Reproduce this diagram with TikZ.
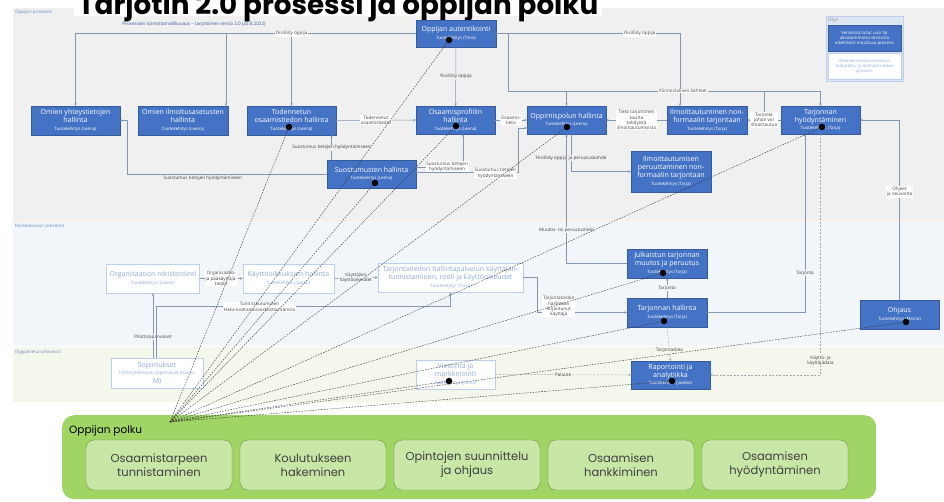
\documentclass[tikz,border=0pt]{standalone}
\usepackage{fontspec}
\setmainfont{Open Sans}
\newfontfamily\polkufont{Poppins}
\usepackage{graphicx}
\usetikzlibrary{arrows.meta,calc}

\definecolor{uusisin}{RGB}{68,114,196}
\definecolor{vanhareuna}{RGB}{189,207,234}
\definecolor{vanhateksti}{RGB}{143,170,220}
\definecolor{viiva}{RGB}{132,151,176}
\definecolor{katkoviiva}{RGB}{166,166,166}
\definecolor{oppijatausta}{RGB}{240,240,240}
\definecolor{korkeatausta}{RGB}{242,246,251}
\definecolor{digitausta}{RGB}{244,247,236}
\definecolor{aluenimi}{RGB}{105,135,190}
\definecolor{selitev}{RGB}{64,64,64}
\definecolor{polkuvihrea}{RGB}{160,212,100}
\definecolor{vaihevihrea}{RGB}{200,230,165}
\definecolor{ohjetausta}{RGB}{222,230,243}

\newcommand{\tuote}[1]{\\[-0.5pt]\fontsize{4.4}{5}\selectfont #1}

\tikzset{
  laatikko/.style={align=center, inner sep=1pt, font=\fontsize{7}{8.2}\selectfont},
  uusi/.style={laatikko, draw=uusisin!80!black, line width=0.3pt, fill=uusisin, text=white},
  vanha/.style={laatikko, draw=vanhareuna, line width=0.6pt, fill=white, text=vanhateksti},
  nuoli/.style={draw=viiva, line width=0.5pt, -{Stealth[length=2.6pt,width=2.4pt]}},
  katko/.style={nuoli, draw=katkoviiva, dash pattern=on 2pt off 1.5pt},
  selite/.style={font=\fontsize{4.6}{5.3}\selectfont, text=selitev, align=center, inner sep=0.7pt, fill=white},
  alue/.style={font=\fontsize{4.5}{5.2}\selectfont, text=aluenimi, anchor=north west, inner sep=0pt},
  piste/.style={circle, fill=black, inner sep=0pt, minimum size=6.5pt},
  polkuviiva/.style={draw=black!80, line width=0.4pt, dash pattern=on 1.6pt off 1.2pt},
  vaihe/.style={draw=polkuvihrea!70!black, line width=0.4pt, fill=vaihevihrea, rounded corners=8pt,
    minimum width=146pt, minimum height=50pt, align=center, text=black!75,
    font=\polkufont\fontsize{11.5}{14}\selectfont}
}

\begin{document}
\begin{tikzpicture}[x=1pt, y=-1pt]
  \useasboundingbox (0,0) rectangle (944,501);
  \clip (0,0) rectangle (944,501);

  % alueet
  \fill[oppijatausta] (13,8) rectangle (944,220);
  \fill[korkeatausta] (13,220) rectangle (944,346);
  \fill[digitausta] (13,346) rectangle (944,402);
  \draw[orange!15, line width=0.8pt] (13,220) -- (944,220);
  \draw[white, line width=0.8pt] (13,346) -- (944,346);

  \fill[white] (74,0) rectangle (602,16);
  \node[anchor=base west, inner sep=0pt] (otsikko) at (78,14)
    {\resizebox{520pt}{!}{\polkufont\bfseries Tarjotin 2.0 prosessi ja oppijan polku}};
  \node[font=\fontsize{4.6}{5.4}\selectfont, text=uusisin!75!black] (versio) at (194,24.5)
    {Prosessien toimintamallikuvaus – tarjottimen versio 2.0 (20.8.2022)};

  \node[alue] (oppijat) at (15,10) {Oppijan prosessit};
  \node[alue] (korkeat) at (15,224) {Korkeakoulun prosessit};
  \node[alue] (digit) at (15,350) {Digipalvelun prosessit};

  % ohje
  \node[draw=vanhareuna, fill=ohjetausta, minimum width=77pt, minimum height=65pt,
    anchor=north west, inner sep=0pt] (ohje) at (826,16) {};
  \node[alue, text=black!45] (ohjenimi) at (828,18) {Ohje};
  \node[uusi, font=\fontsize{4.3}{5.2}\selectfont, minimum width=73pt, minimum height=26pt] (ohjeuusi)
    at (864.5,38.5) {Versiossa tullut uusi tai\\aikaisemmasta versiosta\\oleellisesti muuttuva prosessi};
  \node[vanha, font=\fontsize{4.3}{5.2}\selectfont, minimum width=73pt, minimum height=26pt] (ohjevanha)
    at (864.5,66.5) {Aikaisemmassa versiossa\\toteutettu, jo olemassa oleva\\prosessi};

  % prosessit
  \node[uusi, minimum width=80pt, minimum height=27pt] (auth) at (456,33.5)
    {Oppijan autentikointi\tuote{Tuotekehitys (Tiina)}};
  \node[uusi, minimum width=89pt, minimum height=29pt] (yhteys) at (75.5,120.5)
    {Omien yhteystietojen\\hallinta\tuote{Tuotekehitys (Leena)}};
  \node[uusi, minimum width=90pt, minimum height=29pt] (ilmoas) at (183,120.5)
    {Omien ilmoitusasetusten\\hallinta\tuote{Tuotekehitys (Leena)}};
  \node[uusi, minimum width=89pt, minimum height=29pt] (todenn) at (291.5,120.5)
    {Todennetun\\osaamistiedon hallinta\tuote{Tuotekehitys (Leena)}};
  \node[uusi, minimum width=79pt, minimum height=28pt] (profiili) at (455.5,120)
    {Osaamisprofiilin\\hallinta\tuote{Tuotekehitys (Leena)}};
  \node[uusi, minimum width=79pt, minimum height=28pt] (oppimispolku) at (566.5,120)
    {Oppimispolun hallinta\tuote{Tuotekehitys (Leena)}};
  \node[uusi, minimum width=80pt, minimum height=28pt] (ilmoitt) at (707,120)
    {Ilmoittautuminen non-\\formaalin tarjontaan\tuote{Tuotekehitys (Tarja)}};
  \node[uusi, minimum width=79pt, minimum height=28pt] (tarjhyod) at (820.5,120)
    {Tarjonnan\\hyödyntäminen\tuote{Tuotekehitys (Tarja)}};
  \node[uusi, minimum width=89pt, minimum height=28pt] (suostum) at (371.5,174)
    {Suostumusten hallinta\tuote{Tuotekehitys (Leena)}};
  \node[uusi, minimum width=80pt, minimum height=41pt] (peruut) at (671,171.5)
    {Ilmoittautumisen\\peruuttaminen non-\\formaalin tarjontaan\tuote{Tuotekehitys (Tarja)}};
  \node[uusi, minimum width=80pt, minimum height=29pt] (julk) at (667,263.5)
    {Julkaistun tarjonnan\\muutos ja peruutus\tuote{Tuotekehitys (Tarja)}};
  \node[uusi, minimum width=80pt, minimum height=29pt] (tarjhal) at (667,312.5)
    {Tarjonnan hallinta\tuote{Tuotekehitys (Tarja)}};
  \node[uusi, minimum width=79pt, minimum height=29pt] (ohjaus) at (899.5,314.5)
    {Ohjaus\tuote{Tuotekehitys (Minna)}};
  \node[uusi, minimum width=79pt, minimum height=28pt] (raport) at (670.5,375)
    {Raportointi ja\\analytiikka\tuote{Tuotekehitys (Jaakko)}};
  \node[vanha, minimum width=93pt, minimum height=29pt] (orgrek) at (153,278.5)
    {Organisaation rekisteröinti\tuote{Tuotekehitys (Jaakko)}};
  \node[vanha, minimum width=91pt, minimum height=29pt] (kayttoik) at (288.5,278.5)
    {Käyttöoikeuksien hallinta\tuote{Tuotekehitys (Jaakko)}};
  \node[vanha, minimum width=145pt, minimum height=29pt] (tunnist) at (450.5,277.5)
    {Tarjontatiedon hallintapalvelun käyttäjän-\\tunnistaminen, rooli ja käyttöoikeudet\tuote{Tuotekehitys (Tiina)}};
  \node[vanha, minimum width=92pt, minimum height=30pt] (sopim) at (157,373)
    {Sopimukset\tuote{Pilotti/yhteistyön sopimukset (Hanna\\M)}};
  \node[vanha, minimum width=79pt, minimum height=29pt] (viest) at (455.5,374.5)
    {Viestintä ja\\markkinointi\tuote{Tuotekehitys (Jonna)}};

  % yhteydet
  \draw[nuoli] (auth.west) -| (yhteys.north);
  \draw[nuoli] (auth.west) -| ([xshift=43]ilmoas.north);
  \draw[nuoli] (auth.west) -| node[selite, pos=0.5] {Yksilöity oppija} (todenn.north);
  \draw[nuoli] (auth.south) -- node[selite, fill=oppijatausta] {Yksilöity oppija} (profiili.north);
  \draw[nuoli] (auth.east) -| node[selite, pos=0.39] {Yksilöity oppija} ([xshift=-27]ilmoitt.north);
  \draw[nuoli] ([xshift=12]auth.east) -- ++(0,57.5) coordinate (kiinnk)
    -| node[selite, pos=0.28] {Kiinnostuksen kohteet} (tarjhyod.north);
  \draw[nuoli] (kiinnk -| oppimispolku.north) -- (oppimispolku.north);
  \draw[nuoli] (todenn.east) -- node[selite] {Todennetut\\osaamistiedot} (profiili.west);
  \draw[nuoli] (profiili.east) -- node[selite] {Osaamis-\\tieto} (oppimispolku.west);
  \draw[nuoli] (ilmoitt.west) -- node[selite] {Tieto tarjottimen\\kautta\\tehdyistä\\ilmoittautumisista} (oppimispolku.east);
  \draw[nuoli] (tarjhyod.west) -- node[selite] (johon) {Tarjonta\\johon voi\\ilmoittautua} (ilmoitt.east);
  \draw[draw=viiva, line width=0.5pt] (kiinnk -| johon.north) -- (johon.north);
  \draw[nuoli] (ohjaus.north) |- node[selite, pos=0.3] {Ohjeet\\ja neuvonta} (tarjhyod.east);

  \draw[nuoli] (suostum.west) -| ([xshift=7]yhteys.east) -- (yhteys.east);
  \path (suostum.west) -| node[selite, fill=none, pos=0.3, below=1.5pt] {Suostumus tietojen hyödyntämiseen} (yhteys.east);
  \coordinate (suostpohja) at ([xshift=-40]suostum.north);
  \draw[nuoli] (suostpohja) -- node[selite, fill=oppijatausta] {Suostumus tietojen hyödyntämiseen} (suostpohja |- todenn.south);
  \draw[nuoli] ([yshift=7]suostum.east) -| node[selite, pos=0.33] {Suostumus tietojen\\hyödyntämiseen} ([xshift=7.5]profiili.south);
  \draw[nuoli] ([yshift=2]suostum.east) -| node[selite, pos=0.39, yshift=-1.5] {Suostumus tietojen\\hyödyntämiseen}
    ([yshift=-8,xshift=-9]oppimispolku.west) -- ([yshift=-8]oppimispolku.west);
  \draw[nuoli] ([xshift=4.5]oppimispolku.south) |- node[selite, fill=oppijatausta, pos=0.32] {Yksilöity oppija ja peruutuskohde} (peruut.west);
  \draw[nuoli] (julk.west) -| node[selite, fill=korkeatausta, pos=0.63] {Muutos- tai peruutustieto} (oppimispolku.south);
  \draw[nuoli] (tarjhal.north) -- node[selite, fill=korkeatausta] {Tarjonta} (julk.south);
  \draw[nuoli] (tarjhal.east) -| node[selite, fill=korkeatausta, pos=0.61] {Tarjonta} ([xshift=-15.5]tarjhyod.south);
  \draw[katko] (tarjhyod.south) |- node[selite, fill=digitausta, pos=0.47] {Käyttö- ja\\käyttäjädata} (raport.east);
  \draw[katko] (viest.east) -- node[selite, fill=digitausta] {Palaute} (raport.west);
  \draw[katko] (tarjhal.south) -- node[selite, fill=digitausta, pos=0.7] {Tarjontadata} (raport.north);

  \draw[nuoli] (orgrek.east) -- node[selite] {Organisaatio-\\ja pääkäyttäjä-\\tiedot} (kayttoik.west);
  \draw[nuoli] (kayttoik.east) -- node[selite, fill=korkeatausta] {Käyttäjien\\käyttöoikeudet} (tunnist.west);
  \draw[nuoli] ([xshift=-4]sopim.north) -- node[selite, fill=korkeatausta, pos=0.32] {Pilottisopimukset} (orgrek.south);
  \draw[nuoli] ([xshift=-0.5]sopim.north) -- ++(0,-51)
    -| node[selite, pos=0.175] {Tunnistautuminen\\Haka-luottamusverkoston kanssa} (tunnist.south);
  \draw[nuoli] (tunnist.east) -- ++(14,0)
    |- node[selite, pos=0.62, yshift=6] {Tarjontatiedon\\hallintaan\\kirjautunut\\käyttäjä} (tarjhal.west);

  % oppijan polku
  \node[fill=polkuvihrea, rounded corners=12pt, minimum width=814pt, minimum height=84pt,
    anchor=north west, inner sep=0pt] (polku) at (62,415) {};
  \node[anchor=north west, font=\polkufont\fontsize{10.5}{12}\selectfont, inner sep=0pt] (polkunimi) at (69,425) {Oppijan polku};
  \foreach \t [count=\i from 0] in {{Osaamistarpeen\\tunnistaminen},{Koulutukseen\\hakeminen},{Opintojen suunnittelu\\ja ohjaus},{Osaamisen\\hankkiminen},{Osaamisen\\hyödyntäminen}}{%
    \node[vaihe] (vaihe\i) at ({159+\i*154},465) {\t};
  }

  \coordinate (tarve) at (170,422);
  \foreach \x/\y [count=\k] in {449/40,289/127,456/126,567/127,822/127,375/183,663/273,664/321,906/322,449/381,672/381}{%
    \node[piste] (piste\k) at (\x,\y) {};
  }
  \foreach \k in {1,...,11}{%
    \draw[polkuviiva] (tarve) -- (piste\k.center);
  }
\end{tikzpicture}
\end{document}
